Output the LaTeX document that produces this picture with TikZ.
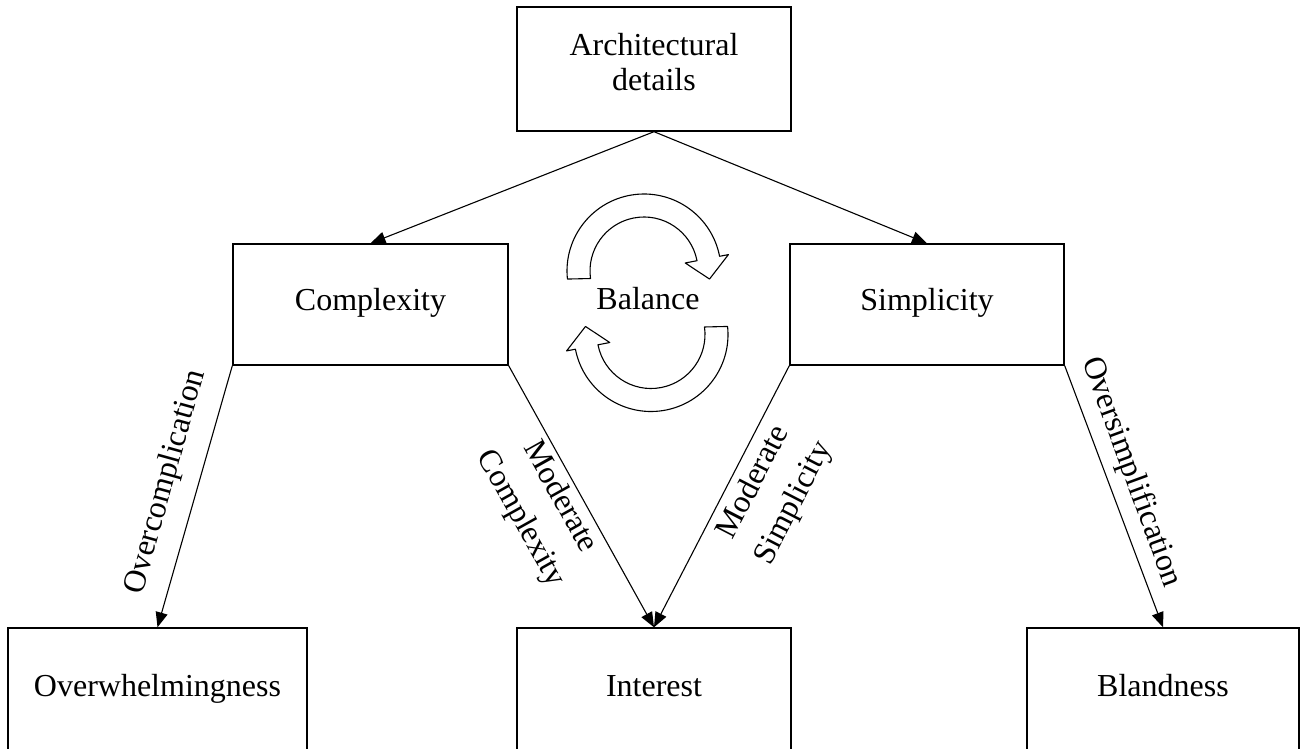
\documentclass[tikz,border=0pt]{standalone}
\usepackage{fontspec}
\setmainfont{Liberation Serif}
\usetikzlibrary{arrows.meta}
\begin{document}
\begin{tikzpicture}[x=0.5pt,y=-0.5pt,
  box/.style={draw, line width=0.7pt, inner sep=0pt,
    font=\fontsize{16}{18}\selectfont, text height=0.72em, text depth=0.12em},
  link/.style={draw, line width=0.55pt, -{Triangle[length=7.5pt,width=6pt]}},
  lbl/.style={font=\fontsize{16}{22.5}\selectfont, inner sep=0pt, align=center},
  cyc/.style={draw, line width=0.55pt, fill=white, line join=round}]
\useasboundingbox (0,0) rectangle (1301,749);
\clip (0,0) rectangle (1301,749);

% boxes
\node[box, minimum width=137pt, minimum height=62pt] (arch) at (654,69) {};
\node[lbl, font=\fontsize{16}{17.85}\selectfont] (archtxt) at (654,62) {Architectural\\details};
\node[box, minimum width=137.5pt, minimum height=60.5pt] (cplx) at (370.5,304.5) {Complexity};
\node[box, minimum width=137pt, minimum height=60.5pt] (simp) at (927,304.5) {Simplicity};
\node[box, minimum width=149.5pt, minimum height=62pt] (overw) at (157.5,690) {Overwhelmingness};
\node[box, minimum width=137pt, minimum height=62pt] (intr) at (654,690) {Interest};
\node[box, minimum width=136pt, minimum height=62pt] (bland) at (1163,690) {Blandness};

% balance cycle: two curved block arrows around the word
\begin{scope}[shift={(644,271)}]
  \path[cyc] (174:77) arc[start angle=174, end angle=349, radius=77]
    -- (349:86) -- (7:66) -- (349:42) -- (349:54)
    arc[start angle=349, end angle=172, radius=54] -- cycle;
\end{scope}
\begin{scope}[shift={(651,334.5)}, rotate=180]
  \path[cyc] (174:77) arc[start angle=174, end angle=349, radius=77]
    -- (349:86) -- (7:66) -- (349:42) -- (349:54)
    arc[start angle=349, end angle=172, radius=54] -- cycle;
\end{scope}
\node[lbl, text height=0.72em, text depth=0.12em] (bal) at (648,303.5) {Balance};

% connectors
\draw[link] (arch.south) -- (cplx.north);
\draw[link] (arch.south) -- (simp.north);
\draw[link] (cplx.south west) -- (overw.north);
\draw[link] (cplx.south east) -- (intr.north);
\draw[link] (simp.south west) -- (intr.north);
\draw[link] (simp.south east) -- (bland.north);

% connector labels
\node[lbl, rotate=74.5] (lovc) at (166,482) {Overcomplication};
\node[lbl, rotate=-69.9] (lovs) at (1131,472) {Oversimplification};
\node[lbl, rotate=-60.8] (lmc) at (540,508) {Moderate\\Complexity};
\node[lbl, rotate=62.7] (lms) at (774,493) {Moderate\\Simplicity};
\end{tikzpicture}
\end{document}
